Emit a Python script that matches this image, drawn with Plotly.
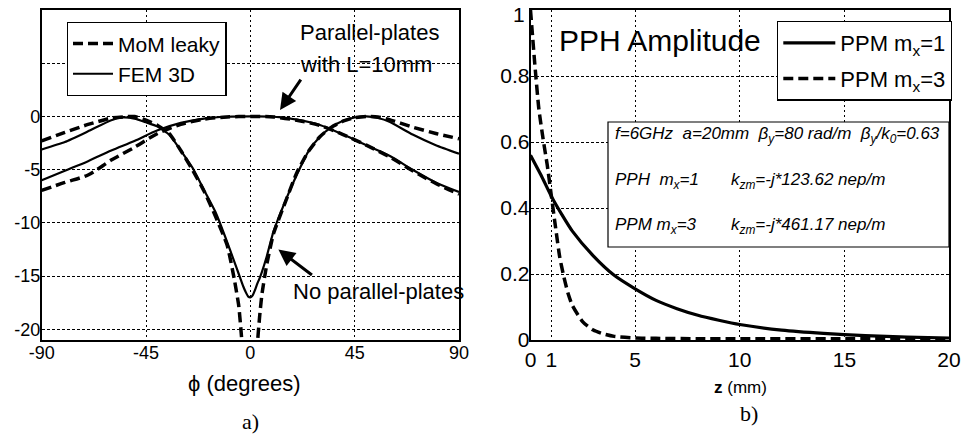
import plotly.graph_objects as go

# ---- panel a): radiation patterns (dB) vs azimuth ----
phi_np = [-90, -80, -70, -60, -55, -50, -45, -40, -35, -30, -25, -20, -15, -10,
          -7, -5, -4, -3, -2, -1, 0, 1, 2, 3, 4, 5, 7, 10, 15, 20, 25, 30, 35,
          40, 45, 50, 55, 60, 70, 80, 90]
mom_np = [-2.3, -1.5, -0.75, -0.15, -0.05, 0.0, -0.35, -0.85, -1.6, -3.2, -5.0,
          -7.0, -9.4, -12.1, -15.2, -17.8, -20.2, -23.0, -27.0, -32.0, -40.0,
          -32.0, -26.0, -21.5, -18.8, -16.7, -14.0, -11.0, -8.1, -5.3, -3.3,
          -1.9, -1.0, -0.45, -0.12, 0.0, -0.05, -0.3, -1.0, -1.6, -2.1]
fem_np = [-3.1, -2.4, -1.4, -0.35, -0.1, -0.2, -0.55, -0.95, -1.7, -3.2, -4.8,
          -6.9, -9.0, -11.8, -13.6, -14.8, -15.4, -16.0, -16.5, -16.9, -17.0,
          -16.8, -16.3, -15.7, -15.2, -14.6, -13.2, -10.8, -8.0, -5.5, -3.3,
          -1.9, -1.0, -0.4, -0.1, 0.0, -0.15, -0.5, -1.7, -2.7, -3.5]

phi_pp = [-90, -80, -70, -60, -50, -40, -30, -20, -10, 0, 10, 20, 30, 40, 50,
          60, 70, 80, 90]
mom_pp = [-6.95, -6.2, -5.5, -4.1, -2.9, -1.6, -0.75, -0.25, -0.05, 0.0, -0.05,
          -0.35, -0.85, -1.7, -2.7, -3.8, -5.1, -6.3, -7.3]
fem_pp = [-6.0, -5.1, -4.2, -3.2, -2.3, -1.3, -0.6, -0.2, -0.03, 0.0, -0.03,
          -0.3, -0.8, -1.7, -2.7, -3.7, -5.0, -6.2, -7.1]

phi_ticks = [-90, -45, 0, 45, 90]
phi_labels = ["-90", "-45", "0", "45", "90"]
db_ticks = [-20, -15, -10, -5, 0, 5, 10]
db_labels = ["-20", "-15", "-10", "-5", "0", "", ""]

# ---- panel b): PPH amplitude vs distance ----
z_m1 = [0, 0.5, 1, 1.5, 2, 3, 4, 5, 6, 7, 8, 9, 10, 12, 14, 16, 18, 20]
amp_m1 = [0.56, 0.50, 0.435, 0.38, 0.33, 0.255, 0.196, 0.155, 0.12, 0.095,
          0.075, 0.06, 0.047, 0.03, 0.02, 0.013, 0.009, 0.006]
z_m3 = [0, 0.1, 0.2, 0.4, 0.6, 0.8, 1.0, 1.2, 1.4, 1.6, 1.8, 2.0, 2.5, 3.0,
        3.5, 4.0, 5.0, 6, 8, 10, 15, 20]
amp_m3 = [1.0, 0.92, 0.84, 0.70, 0.61, 0.53, 0.435, 0.34, 0.25, 0.19, 0.14,
          0.105, 0.055, 0.03, 0.018, 0.011, 0.006, 0.005, 0.004, 0.004, 0.004,
          0.004]

z_ticks = [0, 1, 5, 10, 15, 20]
amp_ticks = [0, 0.2, 0.4, 0.6, 0.8, 1]
amp_labels = ["0", "0.2", "0.4", "0.6", "0.8", "1"]

W, H = 963, 435
SANS = "Liberation Sans, Arial, sans-serif"
SERIF = "Liberation Serif, Times New Roman, serif"
DASH = "10px,5px"


def fx(p):
    return p / W


def fy(p):
    return 1 - p / H


fig = go.Figure()

fig.add_trace(go.Scatter(x=phi_np, y=mom_np, mode="lines", name="MoM leaky",
                         legend="legend", legendgroup="mom",
                         line=dict(color="black", width=3.5, dash=DASH,
                                   shape="spline", smoothing=0.5),
                         xaxis="x", yaxis="y"))
fig.add_trace(go.Scatter(x=phi_pp, y=mom_pp, mode="lines", name="MoM leaky",
                         legend="legend", legendgroup="mom", showlegend=False,
                         line=dict(color="black", width=3.5, dash=DASH,
                                   shape="spline", smoothing=0.8),
                         xaxis="x", yaxis="y"))
fig.add_trace(go.Scatter(x=phi_np, y=fem_np, mode="lines", name="FEM 3D",
                         legend="legend", legendgroup="fem",
                         line=dict(color="black", width=2.2,
                                   shape="spline", smoothing=0.5),
                         xaxis="x", yaxis="y"))
fig.add_trace(go.Scatter(x=phi_pp, y=fem_pp, mode="lines", name="FEM 3D",
                         legend="legend", legendgroup="fem", showlegend=False,
                         line=dict(color="black", width=2.2,
                                   shape="spline", smoothing=0.8),
                         xaxis="x", yaxis="y"))

fig.add_trace(go.Scatter(x=z_m1, y=amp_m1, mode="lines",
                         name="PPM m<sub>x</sub>=1", legend="legend2",
                         legendgroup="m1",
                         line=dict(color="black", width=3.2,
                                   shape="spline", smoothing=0.6),
                         xaxis="x2", yaxis="y2"))
fig.add_trace(go.Scatter(x=z_m3, y=amp_m3, mode="lines",
                         name="PPM m<sub>x</sub>=3", legend="legend2",
                         legendgroup="m3",
                         line=dict(color="black", width=3.5, dash=DASH,
                                   shape="spline", smoothing=0.6),
                         xaxis="x2", yaxis="y2"))

common_axis = dict(showline=True, mirror=True, linecolor="black", linewidth=1.5,
                   showgrid=True, gridcolor="black", gridwidth=1,
                   zeroline=False, ticks="", color="black",
                   ticklabeloverflow="allow", automargin=False)

# the top label of panel b) is drawn as a note just inside the page
amp_axis_labels = amp_labels[:-1] + [""]

fig.update_layout(
    width=W, height=H,
    margin=dict(l=0, r=0, t=0, b=0, autoexpand=False),
    paper_bgcolor="white", plot_bgcolor="white",
    font=dict(family=SANS, color="black"),
    xaxis=dict(common_axis, domain=[fx(41.7), fx(459)], range=[-90, 90],
               tickvals=phi_ticks, ticktext=phi_labels, griddash="2px,3px",
               tickfont=dict(size=18), anchor="y", ticklabelstandoff=-4),
    yaxis=dict(common_axis, domain=[fy(340), fy(10)], range=[-21, 10],
               tickvals=db_ticks, ticktext=db_labels, griddash="3px,2px",
               tickfont=dict(size=18), anchor="x", ticklabelstandoff=-4),
    xaxis2=dict(common_axis, domain=[fx(530.5), fx(949)], range=[0, 20],
                tickvals=z_ticks, griddash="2px,3px",
                tickfont=dict(size=21), anchor="y2", ticklabelstandoff=0),
    yaxis2=dict(common_axis, domain=[fy(340), fy(10)], range=[0, 1],
                tickvals=amp_ticks, ticktext=amp_axis_labels,
                griddash="3px,2px", tickfont=dict(size=21), anchor="x2",
                ticklabelstandoff=-5),
    legend=dict(x=fx(66.7), y=fy(22), xanchor="left", yanchor="top",
                bgcolor="white", bordercolor="black", borderwidth=1.3,
                font=dict(size=21, family=SANS), tracegroupgap=0,
                itemwidth=40),
    legend2=dict(x=fx(777), y=fy(20.7), xanchor="left", yanchor="top",
                 bgcolor="white", bordercolor="black", borderwidth=1.3,
                 font=dict(size=22, family=SANS), tracegroupgap=4,
                 itemwidth=52),
)

# parameter box in panel b)
fig.add_shape(type="rect", xref="paper", yref="paper",
              x0=fx(608), x1=fx(949), y0=fy(247), y1=fy(122),
              fillcolor="white", line=dict(color="black", width=1.2),
              layer="above")

ann = []


def text(x, y, s, size, xanchor="center", family=SANS, **kw):
    ann.append(dict(x=fx(x), y=fy(y), xref="paper", yref="paper", text=s,
                    showarrow=False, xanchor=xanchor, yanchor="middle",
                    font=dict(size=size, family=family, color="black"), **kw))


text(527, 15, amp_labels[-1], 21, xanchor="right")
text(369, 32, "Parallel-plates", 22)
text(366, 64, "with L=10mm", 22)
text(378, 291.5, "No parallel-plates", 22)
text(244, 383, "ϕ (degrees)", 22)
text(740, 387, "<b>z</b> (mm)", 17)
text(250, 421, "a)", 22, family=SERIF)
text(749, 413, "b)", 22, family=SERIF)
text(660, 40, "PPH Amplitude", 30)

text(613, 135, "<i>f=6GHz  a=20mm  β<sub>y</sub>=80 rad/m  β<sub>y</sub>/k<sub>0</sub>=0.63</i>",
     17, xanchor="left")
text(613, 181, "<i>PPH  m<sub>x</sub>=1</i>", 17, xanchor="left")
text(729, 181, "<i>k<sub>zm</sub>=-j*123.62 nep/m</i>", 17, xanchor="left")
text(613, 226, "<i>PPM m<sub>x</sub>=3</i>", 17, xanchor="left")
text(729, 226, "<i>k<sub>zm</sub>=-j*461.17 nep/m</i>", 17, xanchor="left")

# pointer arrows in panel a) (tail and head given in data units)
ann.append(dict(x=12.8, y=0.6, xref="x", yref="y", ax=22.2, ay=3.6,
                axref="x", ayref="y", text="", showarrow=True, arrowhead=2,
                arrowsize=1.1, arrowwidth=3, arrowcolor="black"))
ann.append(dict(x=12.1, y=-12.5, xref="x", yref="y", ax=27.2, ay=-15.0,
                axref="x", ayref="y", text="", showarrow=True, arrowhead=2,
                arrowsize=1.1, arrowwidth=3, arrowcolor="black"))

fig.update_layout(annotations=ann)

fig.write_html("out.html")
